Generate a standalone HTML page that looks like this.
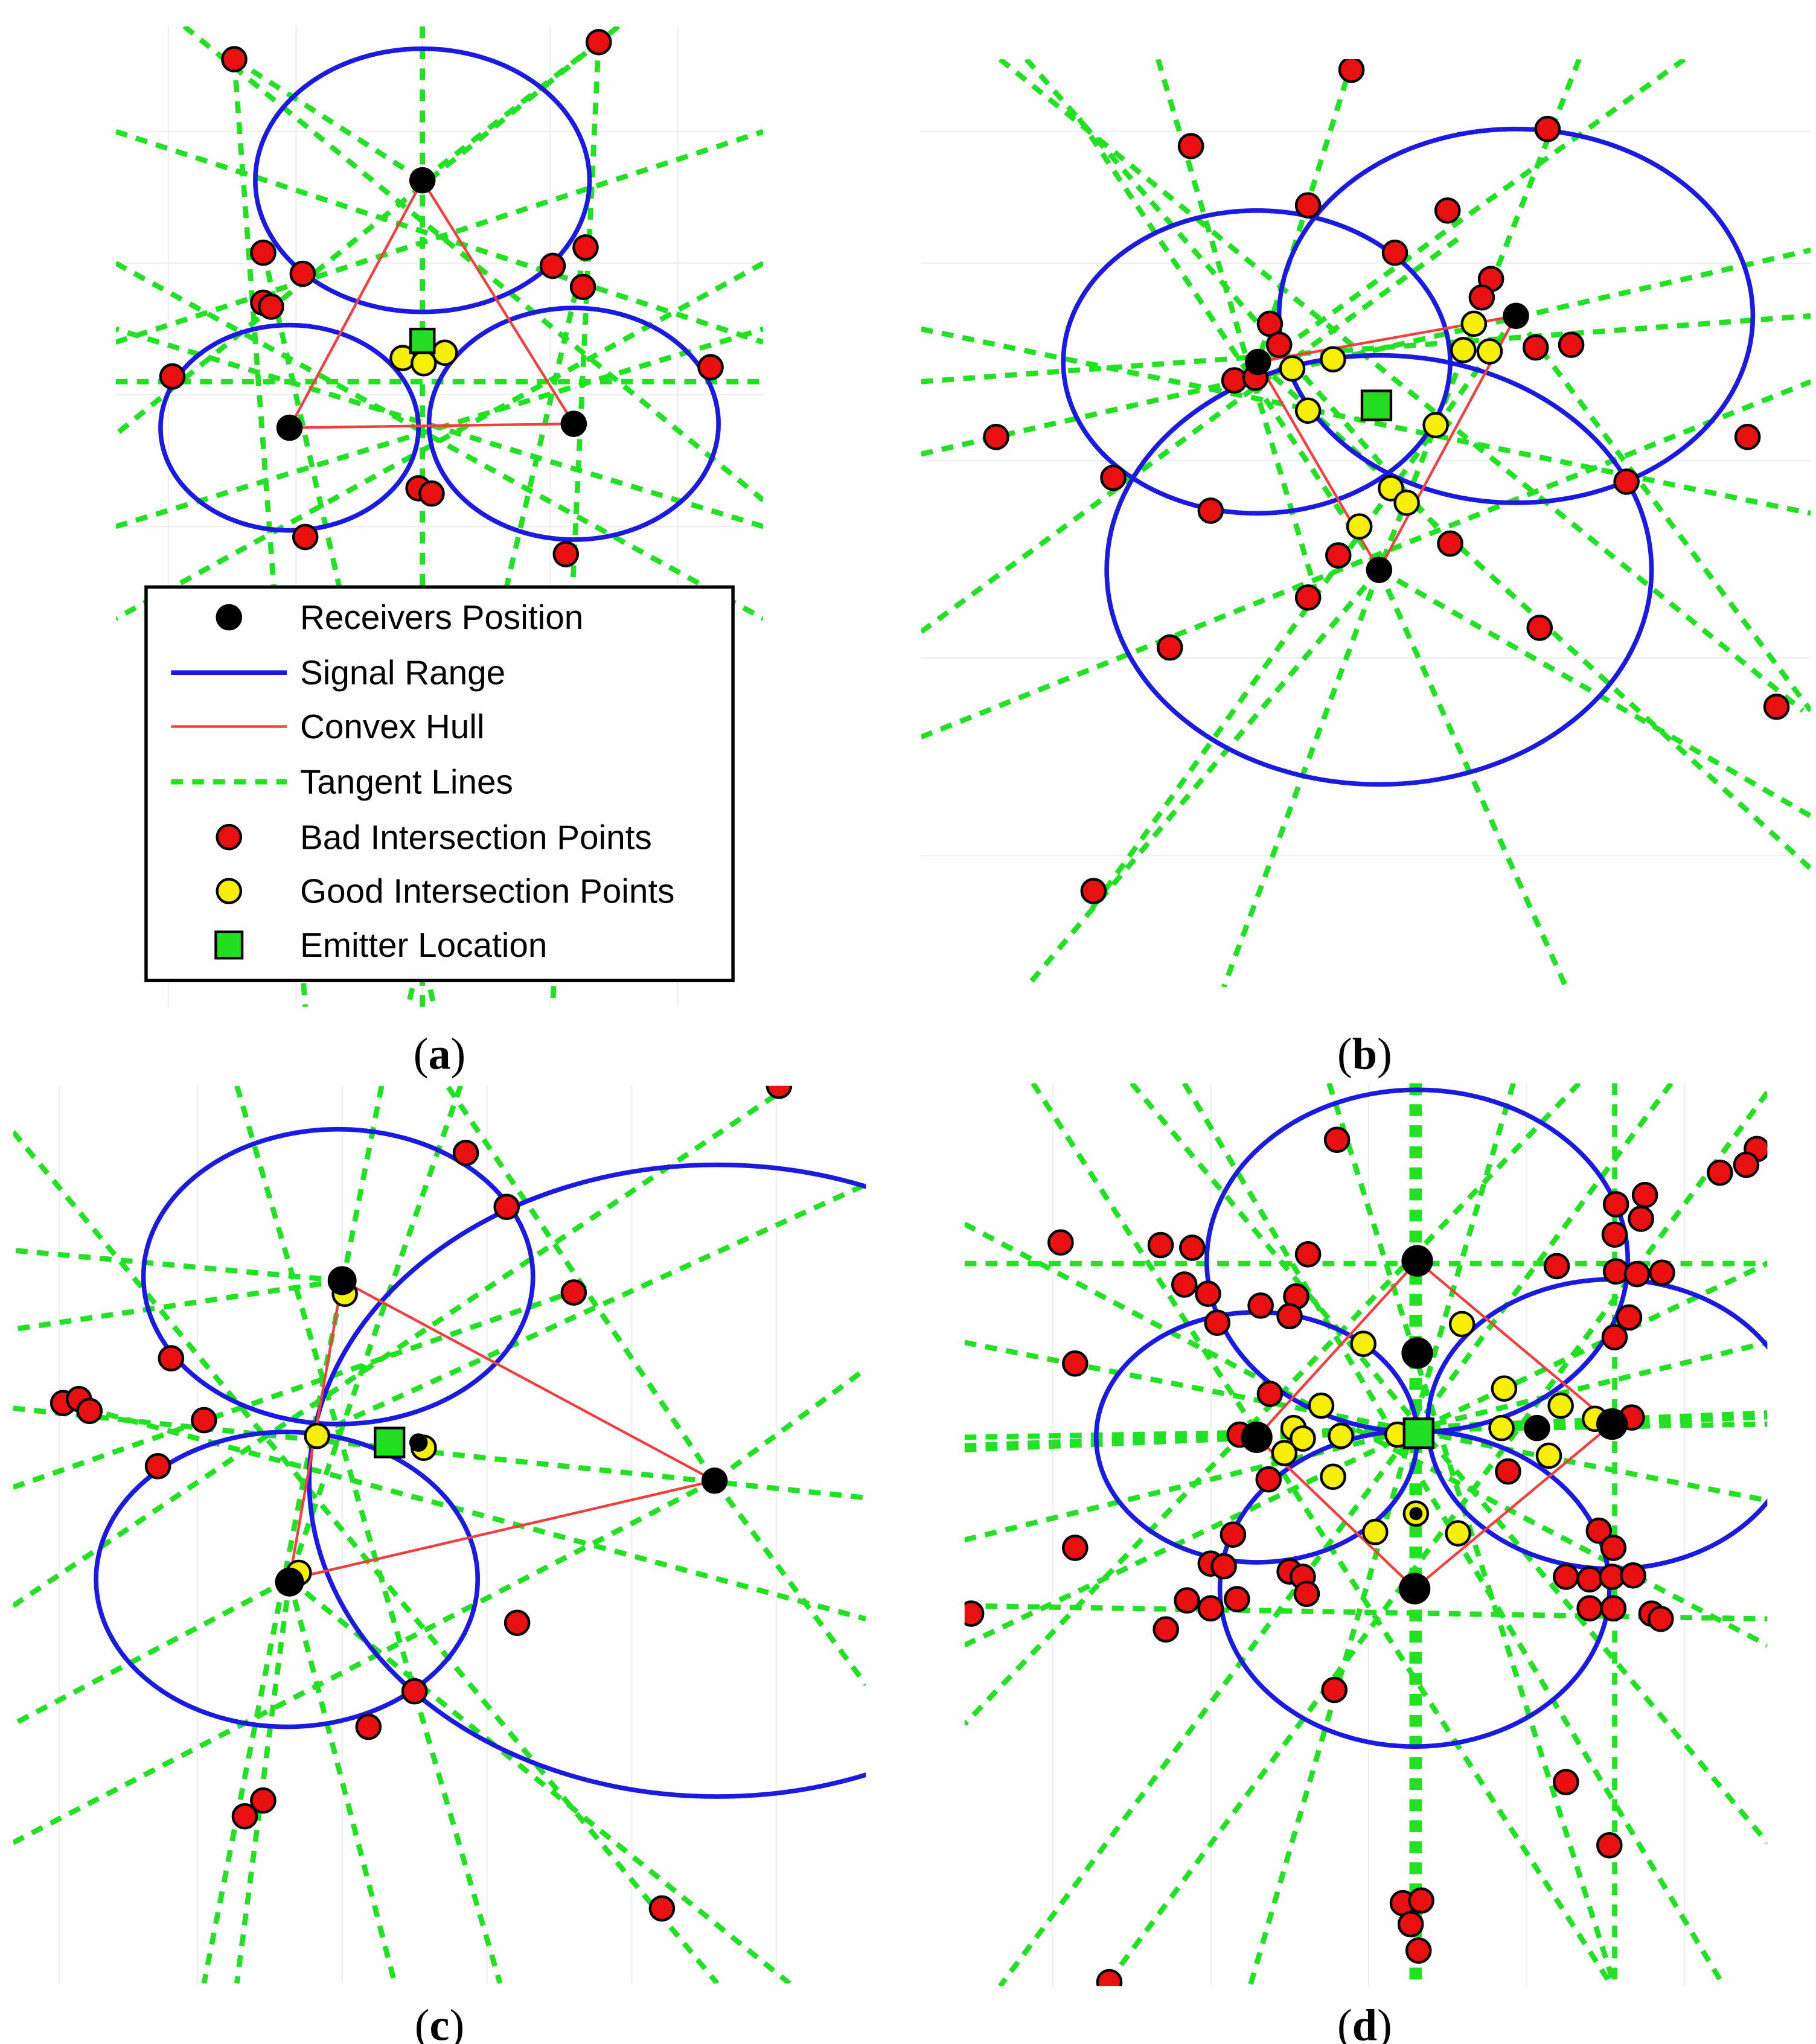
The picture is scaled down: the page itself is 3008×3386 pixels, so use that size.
<!DOCTYPE html>
<html><head><meta charset="utf-8"><style>
html,body{margin:0;padding:0;background:#fff}
svg{display:block}
text{font-family:"Liberation Sans",sans-serif}
.cap{font-family:"Liberation Serif",serif;font-size:34px}
.t{stroke:#22e022;stroke-width:4;stroke-dasharray:9 7;fill:none}
.e{stroke:#1a1ae0;stroke-width:3.5;fill:none}
.h{stroke:#f04040;stroke-width:2;fill:none}
.r{fill:#e81010;stroke:#000;stroke-width:2}
.y{fill:#f5f000;stroke:#000;stroke-width:2}
.k{fill:#000}
.g{fill:#22dd22;stroke:#000;stroke-width:2}
.gr{stroke:#eee;stroke-width:1}
</style></head><body>
<svg width="3008" height="3386" viewBox="0 0 1380 1553" preserveAspectRatio="none">
<defs>
<clipPath id="ca"><rect x="88" y="20" width="492" height="745"/></clipPath>
<clipPath id="cb"><rect x="700" y="45" width="676" height="705"/></clipPath>
<clipPath id="cc"><rect x="10" y="825" width="648" height="682"/></clipPath>
<clipPath id="cd"><rect x="733" y="823" width="610" height="686"/></clipPath>
</defs>
<rect width="1380" height="1553" fill="#fff"/>
<!-- (a) -->
<g clip-path="url(#ca)">
<g class="gr"><line x1="128" y1="20" x2="128" y2="765"/><line x1="225" y1="20" x2="225" y2="765"/><line x1="321" y1="20" x2="321" y2="765"/><line x1="418" y1="20" x2="418" y2="765"/><line x1="515" y1="20" x2="515" y2="765"/><line x1="88" y1="100" x2="580" y2="100"/><line x1="88" y1="200" x2="580" y2="200"/><line x1="88" y1="300" x2="580" y2="300"/><line x1="88" y1="400" x2="580" y2="400"/></g>
<g class="t">
<line x1="321" y1="20" x2="321" y2="765"/>
<line x1="140" y1="20" x2="580" y2="380"/>
<line x1="470" y1="20" x2="88" y2="330"/>
<line x1="178" y1="45" x2="321" y2="137"/><line x1="321" y1="137" x2="455" y2="32"/>
<line x1="88" y1="260" x2="580" y2="100"/>
<line x1="88" y1="100" x2="580" y2="260"/>
<line x1="455" y1="30" x2="420" y2="765"/>
<line x1="178" y1="45" x2="232" y2="765"/>
<line x1="88" y1="200" x2="580" y2="470"/>
<line x1="580" y1="200" x2="88" y2="470"/>
<line x1="88" y1="400" x2="580" y2="250"/>
<line x1="580" y1="400" x2="88" y2="250"/>
<line x1="88" y1="290" x2="580" y2="290"/>
<line x1="200" y1="190" x2="330" y2="765"/>
<line x1="445" y1="190" x2="310" y2="765"/>
</g>
<ellipse class="e" cx="321" cy="137" rx="127" ry="100"/>
<ellipse class="e" cx="220" cy="325" rx="98" ry="78"/>
<ellipse class="e" cx="436" cy="322" rx="110" ry="88"/>
<polygon class="h" points="321,137 220,325 436,322"/>
<g class="r"><circle cx="178" cy="45" r="9"/><circle cx="455" cy="32" r="9"/><circle cx="200" cy="192" r="9"/><circle cx="230" cy="208" r="9"/><circle cx="445" cy="188" r="9"/><circle cx="420" cy="202" r="9"/><circle cx="443" cy="218" r="9"/><circle cx="200" cy="230" r="9"/><circle cx="206" cy="233" r="9"/><circle cx="131" cy="286" r="9"/><circle cx="540" cy="279" r="9"/><circle cx="318" cy="371" r="9"/><circle cx="328" cy="375" r="9"/><circle cx="232" cy="408" r="9"/><circle cx="430" cy="421" r="9"/></g>
<g class="y"><circle cx="306" cy="272" r="9"/><circle cx="338" cy="268" r="9"/><circle cx="322" cy="276" r="9"/></g>
<g class="k"><circle cx="321" cy="137" r="10"/><circle cx="220" cy="325" r="10"/><circle cx="436" cy="322" r="10"/></g>
<rect class="g" x="312" y="250" width="18" height="18"/>
</g>
<rect x="111" y="446" width="446" height="299" fill="#fff" stroke="#000" stroke-width="2.5"/>
<g font-size="26">
<circle cx="174" cy="469" r="10" fill="#000"/><text x="228" y="478">Receivers Position</text>
<line x1="130" y1="511" x2="218" y2="511" stroke="#1a1ae0" stroke-width="3.5"/><text x="228" y="520">Signal Range</text>
<line x1="130" y1="552" x2="218" y2="552" stroke="#f04040" stroke-width="2"/><text x="228" y="561">Convex Hull</text>
<line x1="130" y1="594" x2="218" y2="594" class="t"/><text x="228" y="603">Tangent Lines</text>
<circle cx="174" cy="636" r="9" class="r"/><text x="228" y="645">Bad Intersection Points</text>
<circle cx="174" cy="677" r="9" class="y"/><text x="228" y="686">Good Intersection Points</text>
<rect x="164" y="708" width="20" height="20" class="g"/><text x="228" y="727">Emitter Location</text>
</g>
<text class="cap" x="334" y="812" text-anchor="middle">(<tspan font-weight="bold">a</tspan>)</text>
<!-- (b) -->
<g clip-path="url(#cb)">
<g class="gr"><line x1="700" y1="100" x2="1376" y2="100"/><line x1="700" y1="200" x2="1376" y2="200"/><line x1="700" y1="350" x2="1376" y2="350"/><line x1="700" y1="500" x2="1376" y2="500"/><line x1="700" y1="650" x2="1376" y2="650"/></g>
<g class="t">
<line x1="780" y1="45" x2="1100" y2="410"/>
<line x1="880" y1="45" x2="1000" y2="450"/>
<line x1="1028" y1="45" x2="956" y2="275"/>
<line x1="1200" y1="45" x2="1048" y2="433"/>
<line x1="1280" y1="45" x2="940" y2="290"/>
<line x1="700" y1="290" x2="1376" y2="240"/>
<line x1="700" y1="345" x2="1376" y2="190"/>
<line x1="700" y1="480" x2="1110" y2="180"/>
<line x1="700" y1="560" x2="1376" y2="290"/>
<line x1="760" y1="45" x2="1370" y2="540"/>
<line x1="956" y1="275" x2="1376" y2="660"/>
<line x1="1152" y1="240" x2="1376" y2="540"/>
<line x1="1048" y1="433" x2="780" y2="750"/>
<line x1="1048" y1="433" x2="930" y2="750"/>
<line x1="1048" y1="433" x2="1190" y2="750"/>
<line x1="1048" y1="433" x2="1376" y2="620"/>
<line x1="700" y1="250" x2="1376" y2="390"/>
<line x1="1152" y1="240" x2="830" y2="690"/>
<line x1="820" y1="90" x2="1048" y2="433"/>
</g>
<ellipse class="e" cx="955" cy="275" rx="147" ry="115"/>
<ellipse class="e" cx="1152" cy="240" rx="180" ry="142"/>
<ellipse class="e" cx="1048" cy="433" rx="207" ry="163"/>
<polygon class="h" points="956,275 1152,240 1048,433"/>
<g class="r"><circle cx="1027" cy="53" r="9"/><circle cx="905" cy="111" r="9"/><circle cx="1176" cy="98" r="9"/><circle cx="994" cy="156" r="9"/><circle cx="1100" cy="160" r="9"/><circle cx="1060" cy="192" r="9"/><circle cx="1133" cy="212" r="9"/><circle cx="1126" cy="226" r="9"/><circle cx="965" cy="246" r="9"/><circle cx="972" cy="262" r="9"/><circle cx="1167" cy="264" r="9"/><circle cx="1194" cy="262" r="9"/><circle cx="938" cy="289" r="9"/><circle cx="954" cy="287" r="9"/><circle cx="757" cy="332" r="9"/><circle cx="1328" cy="332" r="9"/><circle cx="846" cy="363" r="9"/><circle cx="1236" cy="366" r="9"/><circle cx="920" cy="388" r="9"/><circle cx="1102" cy="413" r="9"/><circle cx="1017" cy="422" r="9"/><circle cx="994" cy="454" r="9"/><circle cx="1170" cy="477" r="9"/><circle cx="889" cy="492" r="9"/><circle cx="1350" cy="537" r="9"/><circle cx="831" cy="677" r="9"/></g>
<g class="y"><circle cx="1120" cy="246" r="9"/><circle cx="1112" cy="266" r="9"/><circle cx="1132" cy="267" r="9"/><circle cx="1013" cy="273" r="9"/><circle cx="982" cy="280" r="9"/><circle cx="994" cy="312" r="9"/><circle cx="1091" cy="323" r="9"/><circle cx="1057" cy="371" r="9"/><circle cx="1069" cy="382" r="9"/><circle cx="1033" cy="400" r="9"/></g>
<g class="k"><circle cx="956" cy="275" r="10"/><circle cx="1152" cy="240" r="10"/><circle cx="1048" cy="433" r="10"/></g>
<rect class="g" x="1035" y="297" width="22" height="22"/>
</g>
<text class="cap" x="1037" y="812" text-anchor="middle">(<tspan font-weight="bold">b</tspan>)</text>
<!-- (c) -->
<g clip-path="url(#cc)">
<g class="gr"><line x1="45" y1="825" x2="45" y2="1507"/><line x1="150" y1="825" x2="150" y2="1507"/><line x1="260" y1="825" x2="260" y2="1507"/><line x1="370" y1="825" x2="370" y2="1507"/><line x1="480" y1="825" x2="480" y2="1507"/><line x1="590" y1="825" x2="590" y2="1507"/></g>
<g class="t">
<line x1="10" y1="1070" x2="658" y2="1138"/>
<line x1="10" y1="1220" x2="600" y2="825"/>
<line x1="180" y1="825" x2="380" y2="1507"/>
<line x1="290" y1="825" x2="155" y2="1507"/>
<line x1="350" y1="825" x2="220" y2="1200"/>
<line x1="240" y1="1090" x2="658" y2="900"/>
<line x1="10" y1="1400" x2="543" y2="1125"/>
<line x1="543" y1="1125" x2="658" y2="1040"/>
<line x1="543" y1="1125" x2="658" y2="1280"/>
<line x1="543" y1="1125" x2="340" y2="825"/>
<line x1="10" y1="860" x2="545" y2="1507"/>
<line x1="220" y1="1200" x2="600" y2="1507"/>
<line x1="220" y1="1200" x2="10" y2="1310"/>
<line x1="220" y1="1200" x2="180" y2="1507"/>
<line x1="10" y1="1130" x2="440" y2="980"/>
<line x1="260" y1="973" x2="10" y2="1010"/>
<line x1="260" y1="973" x2="10" y2="950"/>
<line x1="50" y1="1066" x2="658" y2="1230"/>
<line x1="220" y1="1200" x2="300" y2="1507"/>
</g>
<ellipse class="e" cx="257" cy="970" rx="148" ry="112"/>
<ellipse class="e" cx="218" cy="1200" rx="145" ry="112"/>
<ellipse class="e" cx="545" cy="1125" rx="310" ry="240"/>
<polygon class="h" points="260,973 220,1200 543,1125"/>
<g class="r"><circle cx="592" cy="825" r="9"/><circle cx="354" cy="876" r="9"/><circle cx="385" cy="917" r="9"/><circle cx="436" cy="982" r="9"/><circle cx="130" cy="1032" r="9"/><circle cx="48" cy="1066" r="9"/><circle cx="60" cy="1063" r="9"/><circle cx="68" cy="1072" r="9"/><circle cx="155" cy="1079" r="9"/><circle cx="120" cy="1114" r="9"/><circle cx="393" cy="1233" r="9"/><circle cx="315" cy="1285" r="9"/><circle cx="280" cy="1312" r="9"/><circle cx="200" cy="1368" r="9"/><circle cx="186" cy="1380" r="9"/><circle cx="503" cy="1450" r="9"/></g>
<g class="y"><circle cx="262" cy="983" r="9"/><circle cx="241" cy="1091" r="9"/><circle cx="322" cy="1100" r="9"/><circle cx="227" cy="1195" r="9"/></g>
<g class="k"><circle cx="260" cy="973" r="11"/><circle cx="220" cy="1202" r="11"/><circle cx="543" cy="1125" r="10"/><circle cx="318" cy="1096" r="7"/></g>
<rect class="g" x="285" y="1085" width="22" height="22"/>
</g>
<text class="cap" x="334" y="1550" text-anchor="middle">(<tspan font-weight="bold">c</tspan>)</text>
<!-- (d) -->
<g clip-path="url(#cd)">
<g class="gr"><line x1="800" y1="823" x2="800" y2="1509"/><line x1="920" y1="823" x2="920" y2="1509"/><line x1="1040" y1="823" x2="1040" y2="1509"/><line x1="1160" y1="823" x2="1160" y2="1509"/><line x1="1280" y1="823" x2="1280" y2="1509"/></g>
<g class="t">
<line x1="1077" y1="823" x2="1077" y2="1509" stroke-width="7"/>
<line x1="1073" y1="823" x2="1073" y2="1509"/>
<line x1="733" y1="1100" x2="1343" y2="1075" stroke-width="7"/>
<line x1="733" y1="1092" x2="1343" y2="1082"/>
<line x1="785" y1="823" x2="1225" y2="1509"/>
<line x1="1343" y1="830" x2="840" y2="1509"/>
<line x1="733" y1="930" x2="1343" y2="1250"/>
<line x1="733" y1="1250" x2="1343" y2="960"/>
<line x1="900" y1="823" x2="1310" y2="1509"/>
<line x1="1270" y1="823" x2="760" y2="1509"/>
<line x1="733" y1="1020" x2="1343" y2="1140"/>
<line x1="733" y1="1170" x2="1343" y2="1020"/>
<line x1="860" y1="823" x2="1343" y2="1400"/>
<line x1="1200" y1="823" x2="733" y2="1310"/>
<line x1="1010" y1="823" x2="1227" y2="1509"/>
<line x1="1150" y1="823" x2="950" y2="1509"/>
<line x1="1227" y1="823" x2="1227" y2="1509"/>
<line x1="733" y1="1220" x2="1343" y2="1230"/>
<line x1="733" y1="960" x2="1343" y2="960"/>
</g>
<ellipse class="e" cx="1077" cy="958" rx="160" ry="130"/>
<ellipse class="e" cx="955" cy="1092" rx="122" ry="95"/>
<ellipse class="e" cx="1225" cy="1082" rx="140" ry="110"/>
<ellipse class="e" cx="1075" cy="1207" rx="148" ry="120"/>
<polygon class="h" points="1077,958 1225,1082 1075,1207 955,1092"/>
<g class="r"><circle cx="1335" cy="873" r="9"/><circle cx="1327" cy="885" r="9"/><circle cx="1307" cy="891" r="9"/><circle cx="1016" cy="866" r="9"/><circle cx="1250" cy="908" r="9"/><circle cx="1228" cy="915" r="9"/><circle cx="1247" cy="926" r="9"/><circle cx="1227" cy="938" r="9"/><circle cx="806" cy="944" r="9"/><circle cx="882" cy="946" r="9"/><circle cx="906" cy="948" r="9"/><circle cx="994" cy="953" r="9"/><circle cx="1183" cy="962" r="9"/><circle cx="1228" cy="966" r="9"/><circle cx="1244" cy="968" r="9"/><circle cx="1263" cy="967" r="9"/><circle cx="900" cy="976" r="9"/><circle cx="918" cy="983" r="9"/><circle cx="985" cy="985" r="9"/><circle cx="958" cy="992" r="9"/><circle cx="925" cy="1005" r="9"/><circle cx="980" cy="1000" r="9"/><circle cx="1238" cy="1001" r="9"/><circle cx="1227" cy="1016" r="9"/><circle cx="817" cy="1036" r="9"/><circle cx="965" cy="1059" r="9"/><circle cx="942" cy="1090" r="9"/><circle cx="1240" cy="1077" r="9"/><circle cx="1146" cy="1118" r="9"/><circle cx="964" cy="1124" r="9"/><circle cx="1215" cy="1163" r="9"/><circle cx="937" cy="1166" r="9"/><circle cx="817" cy="1176" r="9"/><circle cx="1226" cy="1176" r="9"/><circle cx="920" cy="1188" r="9"/><circle cx="930" cy="1190" r="9"/><circle cx="980" cy="1194" r="9"/><circle cx="990" cy="1198" r="9"/><circle cx="1190" cy="1198" r="9"/><circle cx="1208" cy="1200" r="9"/><circle cx="1225" cy="1198" r="9"/><circle cx="1241" cy="1197" r="9"/><circle cx="993" cy="1211" r="9"/><circle cx="902" cy="1216" r="9"/><circle cx="920" cy="1222" r="9"/><circle cx="940" cy="1215" r="9"/><circle cx="1208" cy="1222" r="9"/><circle cx="1226" cy="1222" r="9"/><circle cx="1255" cy="1226" r="9"/><circle cx="1262" cy="1230" r="9"/><circle cx="738" cy="1226" r="9"/><circle cx="886" cy="1238" r="9"/><circle cx="1014" cy="1284" r="9"/><circle cx="1190" cy="1354" r="9"/><circle cx="1223" cy="1402" r="9"/><circle cx="1066" cy="1446" r="9"/><circle cx="1080" cy="1444" r="9"/><circle cx="1072" cy="1462" r="9"/><circle cx="1078" cy="1482" r="9"/><circle cx="843" cy="1506" r="9"/></g>
<g class="y"><circle cx="1111" cy="1006" r="9"/><circle cx="1036" cy="1021" r="9"/><circle cx="1143" cy="1055" r="9"/><circle cx="1004" cy="1068" r="9"/><circle cx="1186" cy="1068" r="9"/><circle cx="983" cy="1085" r="9"/><circle cx="1019" cy="1091" r="9"/><circle cx="1141" cy="1085" r="9"/><circle cx="1212" cy="1078" r="9"/><circle cx="1062" cy="1090" r="9"/><circle cx="990" cy="1093" r="9"/><circle cx="1177" cy="1106" r="9"/><circle cx="976" cy="1104" r="9"/><circle cx="1013" cy="1122" r="9"/><circle cx="1045" cy="1164" r="9"/><circle cx="1108" cy="1165" r="9"/><circle cx="1076" cy="1150" r="9"/></g>
<g class="k"><circle cx="1077" cy="958" r="12"/><circle cx="1077" cy="1028" r="12"/><circle cx="955" cy="1092" r="12"/><circle cx="1225" cy="1082" r="12"/><circle cx="1168" cy="1085" r="10"/><circle cx="1075" cy="1207" r="12"/><circle cx="1076" cy="1150" r="5"/></g>
<rect class="g" x="1067" y="1078" width="22" height="22"/>
</g>
<text class="cap" x="1037" y="1550" text-anchor="middle">(<tspan font-weight="bold">d</tspan>)</text>
</svg>
</body></html>
